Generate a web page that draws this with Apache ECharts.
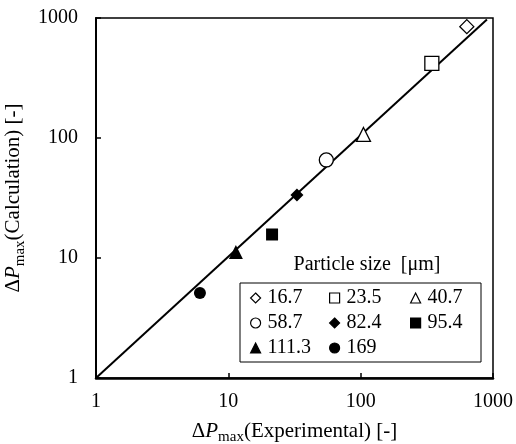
<!DOCTYPE html>
<html>
<head>
<meta charset="utf-8">
<script src="https://cdn.jsdelivr.net/npm/echarts@6/dist/echarts.min.js"></script>
<style>html,body{margin:0;padding:0;background:#fff;}#c{width:516px;height:444px;}</style>
</head>
<body>
<div id="c"></div>
<script>
var sizes = ['16.7', '23.5', '40.7', '58.7', '82.4', '95.4', '111.3', '169'];
var expX = [634, 345, 105, 55, 33, 21.4, 11.4, 6.1];
var calcY = [847, 419, 107, 65.6, 33.5, 15.7, 11.2, 5.1];
var symbols = ['diamond', 'rect', 'triangle', 'circle', 'diamond', 'rect', 'triangle', 'circle'];
var filled = [false, false, false, false, true, true, true, true];
var markerSizes = [14, 14, 14, 14, 13, 12, 14, 12];
var fitX = [1, 900];
var fitY = [1, 970];
var legendCols = [['16.7', '58.7', '111.3'], ['23.5', '82.4', '169'], ['40.7', '95.4']];

var FONT = 'Liberation Serif';
var FS = 20;
var FT = 21;
var chart = echarts.init(document.getElementById('c'), null, {renderer: 'canvas'});

var series = [{
  type: 'line', name: 'fit', data: fitX.map(function (x, i) { return [x, fitY[i]]; }),
  showSymbol: false, symbol: 'none', lineStyle: {color: '#000', width: 2}, z: 1, silent: true
}];
sizes.forEach(function (s, i) {
  series.push({
    type: 'scatter', name: s, data: [[expX[i], calcY[i]]],
    symbol: symbols[i], symbolSize: markerSizes[i],
    itemStyle: filled[i] ? {color: '#000', borderColor: '#000', borderWidth: 0, opacity: 1}
                         : {color: '#fff', borderColor: '#000', borderWidth: 1.3, opacity: 1},
    z: 3
  });
});

var legendLefts = [250, 329, 410];
var legends = legendCols.map(function (col, k) {
  return {
    data: col, orient: 'vertical', left: legendLefts[k], top: 288, padding: 0,
    itemWidth: 10, itemHeight: 10, itemGap: 5, selectedMode: false,
    textStyle: {fontFamily: FONT, fontSize: FS, color: '#000', padding: [0, 0, 0, 2]},
    itemStyle: {borderWidth: 1.2}
  };
});

function axisName(label) {
  return '{d|Δ}{p|P}{s|max}{t|(' + label + ') [-]}';
}
var rich = {
  d: {fontFamily: FONT, fontSize: FT, color: '#000'},
  p: {fontFamily: FONT, fontSize: FT, fontStyle: 'italic', color: '#000'},
  s: {fontFamily: FONT, fontSize: 15, color: '#000', padding: [12, 0, 0, 0]},
  t: {fontFamily: FONT, fontSize: FT, color: '#000'}
};
function fmt(v) { return String(Math.round(v)); }

chart.setOption({
  animation: false,
  backgroundColor: '#fff',
  grid: {left: 96, top: 18, right: 23, bottom: 66, containLabel: false, outerBoundsMode: 'none',
         show: true, borderColor: '#000', borderWidth: 1.5, backgroundColor: 'transparent'},
  xAxis: {
    type: 'log', logBase: 10, min: 1, max: 1000,
    name: axisName('Experimental'), nameLocation: 'middle', nameGap: 40,
    nameTextStyle: {rich: rich},
    axisLine: {show: true, lineStyle: {color: '#000', width: 2.5}},
    axisTick: {show: true, inside: true, length: 5, lineStyle: {color: '#000', width: 1.5}},
    minorTick: {show: false},
    splitLine: {show: false},
    axisLabel: {fontFamily: FONT, fontSize: FS, color: '#000', margin: 14, formatter: fmt}
  },
  yAxis: {
    type: 'log', logBase: 10, min: 1, max: 1000,
    name: axisName('Calculation'), nameLocation: 'middle', nameGap: 60, nameRotate: 90,
    nameTextStyle: {rich: rich},
    axisLine: {show: true, lineStyle: {color: '#000', width: 2}},
    axisTick: {show: true, inside: true, length: 5, lineStyle: {color: '#000', width: 1.5}},
    minorTick: {show: false},
    splitLine: {show: false},
    axisLabel: {fontFamily: FONT, fontSize: FS, color: '#000', margin: 18, formatter: fmt}
  },
  legend: legends,
  graphic: [
    {type: 'rect', shape: {x: 240, y: 283, width: 241, height: 79}, style: {fill: '#fff', stroke: '#000', lineWidth: 1}, z: 3},
    {type: 'text', x: 367, y: 265, style: {text: 'Particle size  [μm]', fontFamily: FONT, fontSize: FS, fill: '#000', align: 'center', verticalAlign: 'middle'}, z: 3}
  ],
  series: series
});
</script>
</body>
</html>
